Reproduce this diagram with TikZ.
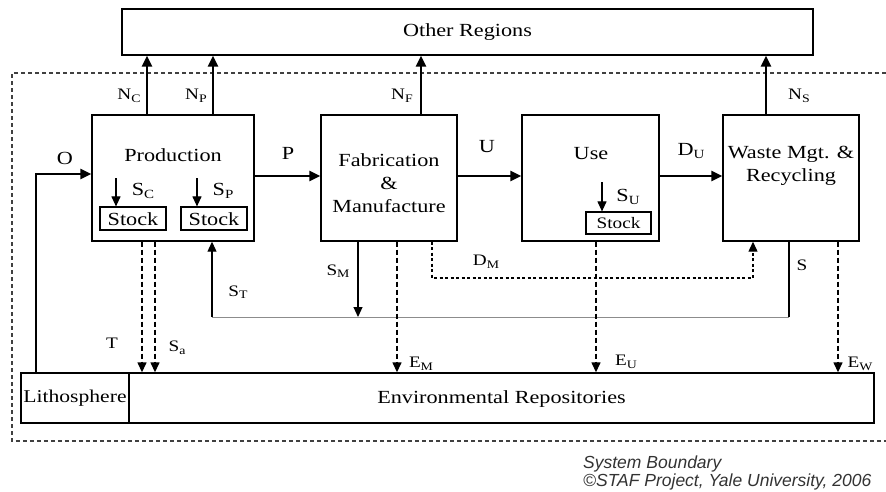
\documentclass[tikz,border=0pt]{standalone}
\usepackage{fontspec}
\setmainfont[FakeStretch=1.2]{Liberation Serif}
\newfontfamily\footfont{Liberation Sans}
\usetikzlibrary{arrows.meta}
\newcommand\sbs[1]{\raisebox{-0.35ex}{\fontsize{11.5}{11.5}\selectfont #1}}
\newcommand\sbsl[1]{\raisebox{-0.35ex}{\fontsize{12.5}{12.5}\selectfont #1}}
\tikzset{
  box/.style={draw, line width=1.4pt, inner sep=0pt, fill=white},
  stockbox/.style={draw, line width=1.2pt, inner sep=0pt},
  main/.style={line width=2.4pt, -{Triangle[length=11pt,width=10pt]}},
  thinarr/.style={line width=1.1pt, -{Triangle[length=10pt,width=9pt]}},
  dasharr/.style={line width=1.4pt, dash pattern=on 5pt off 3pt, -{Triangle[length=10pt,width=9pt]}},
  dotarr/.style={line width=1.2pt, dash pattern=on 3pt off 2.5pt, -{Triangle[length=10pt,width=9pt]}},
  grayline/.style={line width=1pt, draw=black!45},
  darkline/.style={line width=1.1pt},
  lbl/.style={inner sep=0pt, font=\fontsize{16}{16}\selectfont},
  biglbl/.style={inner sep=0pt, font=\fontsize{18.5}{18.5}\selectfont},
  txt/.style={inner sep=0pt, align=center, font=\fontsize{18.5}{23}\selectfont},
}
\begin{document}
\begin{tikzpicture}[x=1pt,y=-1pt]
\useasboundingbox (0,0) rectangle (886,491);
% system boundary
\draw[line width=1.3pt, dash pattern=on 4pt off 3pt, black!75] (886,73) -- (12,73) -- (12,441) -- (886,441);
% boxes
\node[box, minimum width=691pt, minimum height=46pt] (other) at (467.5,32) {};
\node[txt] (othert) at (467.5,32) {Other Regions};
\node[box, minimum width=162pt, minimum height=126pt] (prod) at (173,178) {};
\node[box, minimum width=136pt, minimum height=126pt] (fab) at (389,178) {};
\node[box, minimum width=137pt, minimum height=126pt] (use) at (590.5,178) {};
\node[box, minimum width=136pt, minimum height=126pt] (waste) at (791,178) {};
\node[box, minimum width=108pt, minimum height=50pt] (litho) at (75,398) {};
\node[box, minimum width=745pt, minimum height=50pt] (env) at (501.5,398) {};
\node[stockbox, minimum width=66pt, minimum height=23pt] (st1) at (133,218.5) {};
\node[stockbox, minimum width=66pt, minimum height=23pt] (st2) at (214,218.5) {};
\node[stockbox, minimum width=65pt, minimum height=22pt] (st3) at (618.5,223) {};
% texts
\node[txt] (prodt) at (173,155) {Production};
\node[txt] (fabt) at (389,183) {Fabrication\\\&\\Manufacture};
\node[txt] (uset) at (591,154) {Use};
\node[txt] (wastet) at (791,166) {Waste Mgt. \&\\Recycling};
\node[inner sep=0pt, font=\fontsize{18}{18}\selectfont] (lithot) at (75,398) {Lithosphere};
\node[txt] (envt) at (501.5,399) {Environmental Repositories};
\node[txt] (st1t) at (133,219) {Stock};
\node[txt] (st2t) at (214,219) {Stock};
\node[inner sep=0pt, font=\fontsize{16}{16}\selectfont] (st3t) at (618.5,223.5) {Stock};
% outflows to other regions
\draw[main] (147,0 |- prod.north) -- (147,0 |- other.south);
\draw[main] (213,0 |- prod.north) -- (213,0 |- other.south);
\draw[main] (421,0 |- fab.north) -- (421,0 |- other.south);
\draw[main] (766,0 |- waste.north) -- (766,0 |- other.south);
% main chain
\draw[main] (36,0 |- litho.north) |- (prod.west |- 0,174);
\draw[main] (prod.east |- 0,176) -- (fab.west |- 0,176);
\draw[main] (fab.east |- 0,176) -- (use.west |- 0,176);
\draw[main] (use.east |- 0,176) -- (waste.west |- 0,176);
% stock arrows
\draw[thinarr] (116,178) -- (116,0 |- st1.north);
\draw[thinarr] (197,178) -- (197,0 |- st2.north);
\draw[thinarr] (602,182) -- (602,0 |- st3.north);
% T and Sa
\draw[dasharr] (142,0 |- prod.south) -- (142,0 |- env.north);
\draw[dasharr] (155,0 |- prod.south) -- (155,0 |- env.north);
% scrap loop
\coordinate (sc1) at (789,317);
\coordinate (sc2) at (212,317);
\draw[darkline] (789,0 |- waste.south) -- (sc1);
\draw[grayline] (sc1) -- (sc2);
\draw[thinarr] (sc2) -- (212,0 |- prod.south);
\draw[thinarr] (358,0 |- fab.south) -- (358,317);
% emissions
\draw[dasharr] (397,0 |- fab.south) -- (397,0 |- env.north);
\draw[dasharr] (596,0 |- use.south) -- (596,0 |- env.north);
\draw[dasharr] (838,0 |- waste.south) -- (838,0 |- env.north);
% DM
\coordinate (dm1) at (432,278);
\coordinate (dm2) at (753,278);
\draw[dotarr] (432,0 |- fab.south) -- (dm1) -- (dm2) -- (753,0 |- waste.south);
% labels
\node[lbl] (lnc) at (129,96) {N\sbs{C}};
\node[lbl] (lnp) at (196,96) {N\sbs{P}};
\node[lbl] (lnf) at (402,96) {N\sbs{F}};
\node[lbl] (lns) at (799,96) {N\sbs{S}};
\node[biglbl] (lo) at (65,158) {O};
\node[biglbl] (lp) at (288,153) {P};
\node[biglbl] (lu) at (487,147) {U};
\node[biglbl] (ldu) at (691,151) {D\sbsl{U}};
\node[biglbl] (lsc) at (143,191) {S\sbsl{C}};
\node[biglbl] (lsp) at (223,191) {S\sbsl{P}};
\node[biglbl] (lsu) at (628,197) {S\sbsl{U}};
\node[lbl] (lt) at (112,343) {T};
\node[lbl] (lsa) at (177,348) {S\sbs{a}};
\node[lbl] (lst) at (238,292) {S\sbs{T}};
\node[lbl] (lsm) at (338,271) {S\sbs{M}};
\node[lbl] (ldm) at (486,262) {D\sbs{M}};
\node[lbl] (lem) at (421,364) {E\sbs{M}};
\node[lbl] (leu) at (626,362) {E\sbs{U}};
\node[lbl] (lew) at (860,364) {E\sbs{W}};
\node[lbl] (ls) at (802,265) {S};
% footer
\node[anchor=base west, inner sep=0pt, font=\footfont\itshape\fontsize{17.5}{17.5}\selectfont, text=black!80] (f1) at (583,468) {System Boundary};
\node[anchor=base west, inner sep=0pt, font=\footfont\itshape\fontsize{17.5}{17.5}\selectfont, text=black!80] (f2) at (583,486) {©STAF Project, Yale University, 2006};
\end{tikzpicture}
\end{document}
